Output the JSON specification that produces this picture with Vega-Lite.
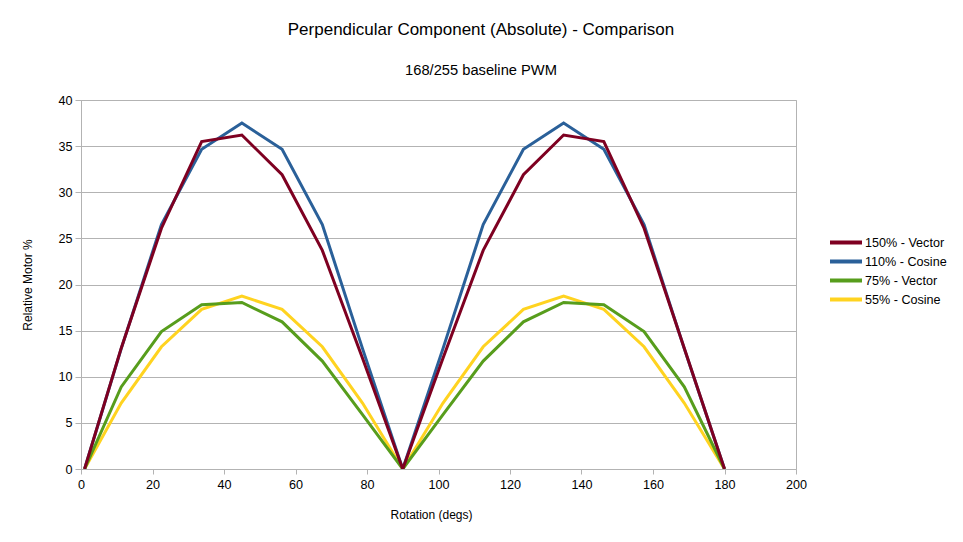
{
  "$schema": "https://vega.github.io/schema/vega-lite/v6.json",
  "autosize": {"type": "none"},
  "padding": {"left": 81, "top": 100, "right": 167, "bottom": 73},
  "width": 715,
  "height": 369,
  "background": "white",
  "title": {
    "text": "Perpendicular Component (Absolute) - Comparison",
    "subtitle": "168/255 baseline PWM",
    "anchor": "middle",
    "dx": 42.5,
    "offset": 15,
    "subtitlePadding": 24,
    "font": "Liberation Sans",
    "fontSize": 17,
    "fontWeight": "normal",
    "color": "black",
    "subtitleFont": "Liberation Sans",
    "subtitleFontSize": 14.7,
    "subtitleColor": "black"
  },
  "config": {
    "view": {"stroke": "#b3b3b3", "strokeWidth": 1},
    "axis": {
      "labelFont": "Liberation Sans",
      "labelFontSize": 12.6,
      "labelColor": "black",
      "labelFlush": false,
      "titleFont": "Liberation Sans",
      "titleFontSize": 12,
      "titleFontWeight": "normal",
      "titleColor": "black",
      "domainColor": "#b3b3b3",
      "tickColor": "#b3b3b3",
      "gridColor": "#b3b3b3",
      "gridOpacity": 1
    }
  },
  "data": {
    "values": [
      {"angle": 1, "value": 0, "series": "55% - Cosine"},
      {"angle": 11.25, "value": 7.15, "series": "55% - Cosine"},
      {"angle": 22.5, "value": 13.25, "series": "55% - Cosine"},
      {"angle": 33.75, "value": 17.3, "series": "55% - Cosine"},
      {"angle": 45, "value": 18.75, "series": "55% - Cosine"},
      {"angle": 56.25, "value": 17.3, "series": "55% - Cosine"},
      {"angle": 67.5, "value": 13.25, "series": "55% - Cosine"},
      {"angle": 78.75, "value": 7.15, "series": "55% - Cosine"},
      {"angle": 90, "value": 0, "series": "55% - Cosine"},
      {"angle": 101.25, "value": 7.15, "series": "55% - Cosine"},
      {"angle": 112.5, "value": 13.25, "series": "55% - Cosine"},
      {"angle": 123.75, "value": 17.3, "series": "55% - Cosine"},
      {"angle": 135, "value": 18.75, "series": "55% - Cosine"},
      {"angle": 146.25, "value": 17.3, "series": "55% - Cosine"},
      {"angle": 157.5, "value": 13.25, "series": "55% - Cosine"},
      {"angle": 168.75, "value": 7.15, "series": "55% - Cosine"},
      {"angle": 180, "value": 0, "series": "55% - Cosine"},

      {"angle": 1, "value": 0, "series": "110% - Cosine"},
      {"angle": 11.25, "value": 13.05, "series": "110% - Cosine"},
      {"angle": 22.5, "value": 26.5, "series": "110% - Cosine"},
      {"angle": 33.75, "value": 34.65, "series": "110% - Cosine"},
      {"angle": 45, "value": 37.5, "series": "110% - Cosine"},
      {"angle": 56.25, "value": 34.65, "series": "110% - Cosine"},
      {"angle": 67.5, "value": 26.5, "series": "110% - Cosine"},
      {"angle": 78.75, "value": 13.05, "series": "110% - Cosine"},
      {"angle": 90, "value": 0, "series": "110% - Cosine"},
      {"angle": 101.25, "value": 13.05, "series": "110% - Cosine"},
      {"angle": 112.5, "value": 26.5, "series": "110% - Cosine"},
      {"angle": 123.75, "value": 34.65, "series": "110% - Cosine"},
      {"angle": 135, "value": 37.5, "series": "110% - Cosine"},
      {"angle": 146.25, "value": 34.65, "series": "110% - Cosine"},
      {"angle": 157.5, "value": 26.5, "series": "110% - Cosine"},
      {"angle": 168.75, "value": 13.05, "series": "110% - Cosine"},
      {"angle": 180, "value": 0, "series": "110% - Cosine"},

      {"angle": 1, "value": 0, "series": "75% - Vector"},
      {"angle": 11.25, "value": 8.9, "series": "75% - Vector"},
      {"angle": 22.5, "value": 14.9, "series": "75% - Vector"},
      {"angle": 33.75, "value": 17.8, "series": "75% - Vector"},
      {"angle": 45, "value": 18.05, "series": "75% - Vector"},
      {"angle": 56.25, "value": 15.95, "series": "75% - Vector"},
      {"angle": 67.5, "value": 11.7, "series": "75% - Vector"},
      {"angle": 78.75, "value": 5.9, "series": "75% - Vector"},
      {"angle": 90, "value": 0, "series": "75% - Vector"},
      {"angle": 101.25, "value": 5.9, "series": "75% - Vector"},
      {"angle": 112.5, "value": 11.7, "series": "75% - Vector"},
      {"angle": 123.75, "value": 15.95, "series": "75% - Vector"},
      {"angle": 135, "value": 18.05, "series": "75% - Vector"},
      {"angle": 146.25, "value": 17.8, "series": "75% - Vector"},
      {"angle": 157.5, "value": 14.9, "series": "75% - Vector"},
      {"angle": 168.75, "value": 8.9, "series": "75% - Vector"},
      {"angle": 180, "value": 0, "series": "75% - Vector"},

      {"angle": 1, "value": 0, "series": "150% - Vector"},
      {"angle": 11.25, "value": 13.1, "series": "150% - Vector"},
      {"angle": 22.5, "value": 26.1, "series": "150% - Vector"},
      {"angle": 33.75, "value": 35.5, "series": "150% - Vector"},
      {"angle": 45, "value": 36.2, "series": "150% - Vector"},
      {"angle": 56.25, "value": 31.9, "series": "150% - Vector"},
      {"angle": 67.5, "value": 23.7, "series": "150% - Vector"},
      {"angle": 78.75, "value": 12.0, "series": "150% - Vector"},
      {"angle": 90, "value": 0, "series": "150% - Vector"},
      {"angle": 101.25, "value": 12.0, "series": "150% - Vector"},
      {"angle": 112.5, "value": 23.7, "series": "150% - Vector"},
      {"angle": 123.75, "value": 31.9, "series": "150% - Vector"},
      {"angle": 135, "value": 36.2, "series": "150% - Vector"},
      {"angle": 146.25, "value": 35.5, "series": "150% - Vector"},
      {"angle": 157.5, "value": 26.1, "series": "150% - Vector"},
      {"angle": 168.75, "value": 13.1, "series": "150% - Vector"},
      {"angle": 180, "value": 0, "series": "150% - Vector"}
    ]
  },
  "mark": {"type": "line", "strokeWidth": 3, "strokeJoin": "miter", "clip": true},
  "encoding": {
    "x": {
      "field": "angle",
      "type": "quantitative",
      "title": "Rotation (degs)",
      "scale": {"domain": [0, 200], "nice": false, "zero": false},
      "axis": {
        "values": [0, 20, 40, 60, 80, 100, 120, 140, 160, 180, 200],
        "grid": false,
        "tickSize": 5,
        "labelPadding": 4,
        "titlePadding": 19,
        "titleX": 350
      }
    },
    "y": {
      "field": "value",
      "type": "quantitative",
      "title": "Relative Motor %",
      "scale": {"domain": [0, 40], "nice": false},
      "axis": {
        "values": [0, 5, 10, 15, 20, 25, 30, 35, 40],
        "tickSize": 6,
        "labelPadding": 3,
        "titlePadding": 23
      }
    },
    "color": {
      "field": "series",
      "type": "nominal",
      "scale": {
        "domain": ["150% - Vector", "110% - Cosine", "75% - Vector", "55% - Cosine"],
        "range": ["#7e0021", "#2a6099", "#579d1c", "#ffd320"]
      },
      "legend": {
        "title": null,
        "orient": "none",
        "legendX": 747,
        "legendY": 133,
        "symbolType": "stroke",
        "symbolSize": 1024,
        "symbolStrokeWidth": 4,
        "clipHeight": 19,
        "rowPadding": 0,
        "labelOffset": 1,
        "labelFont": "Liberation Sans",
        "labelFontSize": 12.6,
        "labelColor": "black"
      }
    },
    "order": {"value": 0}
  }
}
